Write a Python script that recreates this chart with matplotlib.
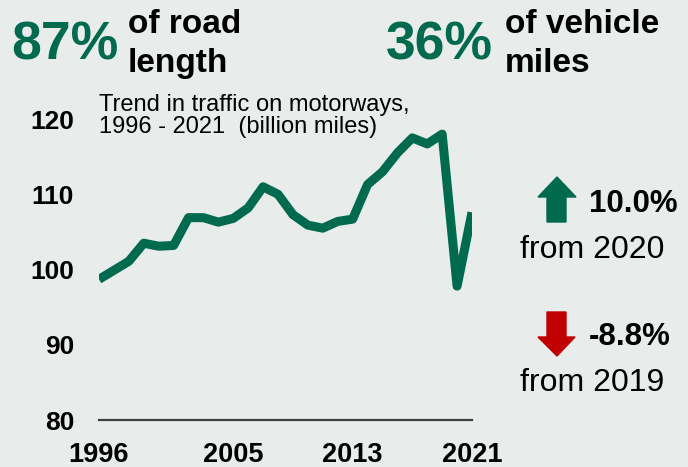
import matplotlib
matplotlib.use("Agg")
import matplotlib.pyplot as plt
from matplotlib.patches import Polygon

# motorway traffic, billion vehicle miles
years = list(range(1996, 2022))
traffic = [98.7, 99.9, 101.1, 103.5, 103.1, 103.2, 106.9, 106.9, 106.3, 106.8,
           108.2, 111.0, 110.0, 107.3, 105.9, 105.5, 106.4, 106.7, 111.3, 113.0,
           115.5, 117.5, 116.7, 118.0, 97.8, 107.6]
yticks = [80, 90, 100, 110, 120]
xticks = [1996, 2005, 2013, 2021]

headline = [("87%", "of road\nlength"), ("36%", "of vehicle\nmiles")]
changes = [("10.0%", "from 2020"), ("-8.8%", "from 2019")]

W, H = 688, 467
bg = "#e8eceb"
green = "#006a4f"
red = "#c00000"

plt.rcParams['font.family'] = ['Liberation Sans', 'DejaVu Sans']

fig = plt.figure(figsize=(W / 100, H / 100), dpi=100, facecolor=bg)

def fx(x):
    return x / W

def fy(y):
    return 1 - y / H

ax = fig.add_axes([fx(99), fy(420), fx(472) - fx(99), (420 - 89) / H])
ax.set_facecolor(bg)
ax.plot(years, traffic, color=green, lw=6.5, solid_joinstyle="round",
        solid_capstyle="butt")
ax.set_xlim(1996, 2021)
ax.set_ylim(80, 124)
ax.set_yticks(yticks)
ax.set_xticks(xticks)
ax.tick_params(length=0)
ax.tick_params(axis="y", pad=18, labelsize=19)
ax.tick_params(axis="x", pad=15.5, labelsize=19.5)
for lab in ax.get_xticklabels() + ax.get_yticklabels():
    lab.set_fontweight("bold")
for s in ["top", "right", "left"]:
    ax.spines[s].set_visible(False)
ax.spines["bottom"].set_color("#404040")
ax.spines["bottom"].set_linewidth(1.6)

ax.text(0.0, 0.985, "Trend in traffic on motorways,\n1996 - 2021  (billion miles)",
        transform=ax.transAxes, fontsize=17, va="top", ha="left",
        linespacing=0.98)

# headline figures
for (big, small), x0, x1 in zip(headline, [11, 386], [128, 505]):
    fig.text(fx(x0), fy(59), big, color=green, fontsize=38.5, fontweight="bold",
             va="baseline")
    fig.text(fx(x1), fy(33), small.split("\n")[0], fontsize=24,
             fontweight="bold", va="baseline")
    fig.text(fx(x1), fy(72), small.split("\n")[1], fontsize=24,
             fontweight="bold", va="baseline")

# change arrows
up = [(547, 222), (566, 222), (566, 197), (576, 197), (557, 177), (538, 197), (547, 197)]
down = [(547, 312), (566, 312), (566, 337), (575, 337), (557, 356), (538, 337), (547, 337)]
for pts, c in [(up, green), (down, red)]:
    fig.add_artist(Polygon([(x / 100, (H - y) / 100) for x, y in pts],
                           closed=True, color=c, transform=fig.dpi_scale_trans))

for (pct, since), yb in zip(changes, [212, 345]):
    fig.text(fx(589), fy(yb), pct, fontsize=22.5, fontweight="bold", va="baseline")
    fig.text(fx(520), fy(yb + 46), since, fontsize=23, va="baseline")

fig.savefig("out.png", dpi=100, facecolor=bg)
